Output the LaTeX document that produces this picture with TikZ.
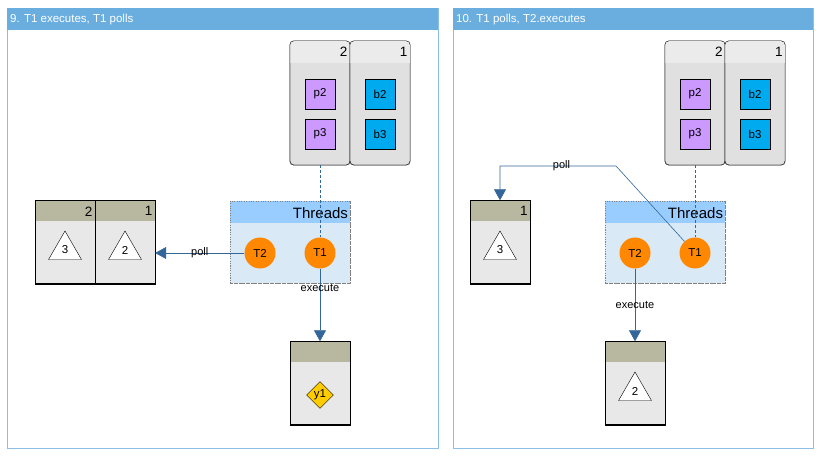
\documentclass[tikz,border=0pt]{standalone}
\usepackage{fontspec}
\setmainfont{Liberation Sans}
\usetikzlibrary{arrows.meta,shapes.geometric,calc}
\definecolor{hdrblue}{HTML}{6AAEE0}
\definecolor{pnlline}{HTML}{8CBFE6}
\definecolor{cellgray}{HTML}{E0E0E0}
\definecolor{cellhead}{HTML}{EBEBEB}
\definecolor{qhead}{HTML}{B8B8A0}
\definecolor{qbody}{HTML}{E8E8E8}
\definecolor{thrhead}{HTML}{99CCFF}
\definecolor{thrbody}{HTML}{D9E9F5}
\definecolor{torange}{HTML}{FF8800}
\definecolor{ppurple}{HTML}{CC99FF}
\definecolor{bblue}{HTML}{00AAEE}
\definecolor{ygold}{HTML}{FFCC00}
\definecolor{arrblue}{HTML}{336699}
\tikzstyle{panel} = [draw=pnlline, fill=white, inner sep=0pt]
\tikzstyle{pnlhead} = [fill=hdrblue, inner sep=0pt, minimum height=22pt]
\tikzstyle{pnltitle} = [text=white, font=\fontsize{11.5}{13}\selectfont, inner sep=0pt]
\tikzstyle{topcell} = [draw=black!85, fill=cellgray, rounded corners=4pt, minimum width=60pt, minimum height=124pt, inner sep=0pt]
\tikzstyle{qcell} = [draw=black, fill=qbody, minimum width=60pt, minimum height=83pt, inner sep=0pt]
\tikzstyle{cellnum} = [font=\fontsize{13.5}{15}\selectfont, inner sep=2.5pt]
\tikzstyle{pbox} = [draw=black, fill=ppurple, minimum size=30pt, inner sep=0pt, font=\fontsize{11.5}{13}\selectfont]
\tikzstyle{bbox} = [draw=black, fill=bblue, minimum size=30pt, inner sep=0pt, font=\fontsize{11.5}{13}\selectfont]
\tikzstyle{thrbox} = [draw=black!50, dotted, fill=thrbody, minimum width=120pt, minimum height=82pt, inner sep=0pt]
\tikzstyle{thr} = [circle, fill=torange, minimum size=31pt, inner sep=0pt, font=\fontsize{11.5}{13}\selectfont]
\tikzstyle{tri} = [regular polygon, regular polygon sides=3, draw=black, fill=white, minimum size=38pt, inner sep=0pt, font=\fontsize{11.5}{13}\selectfont]
\tikzstyle{job} = [diamond, draw=black, fill=ygold, minimum size=27pt, inner sep=0pt, font=\fontsize{11.5}{13}\selectfont]
\tikzstyle{conn} = [draw=arrblue, semithick, -{Triangle[width=12pt,length=11pt]}]
\tikzstyle{dashline} = [draw=arrblue, densely dashed]
\tikzstyle{lbl} = [font=\fontsize{11}{13}\selectfont, inner sep=1pt]
% storage cell with a light rounded header
\newcommand{\topbox}[3]{%
  \node[topcell] (#1) at (#2,103) {};
  \fill[cellhead] ($(#1.north west)+(0.4,22)$) [rounded corners=3.6pt] -- ($(#1.north west)+(0.4,0.4)$) -- ($(#1.north east)+(-0.4,0.4)$) [sharp corners] -- ($(#1.north east)+(-0.4,22)$) -- cycle;
  \draw[black!85, rounded corners=4pt] (#1.north west) rectangle (#1.south east);
  \node[cellnum, anchor=east] at ($(#1.north east)+(0,11)$) {#3};
}
% queue cell with khaki header
\newcommand{\qbox}[4]{%
  \node[qcell] (#1) at (#2,#3) {};
  \fill[qhead] ($(#1.north west)+(0.4,0.4)$) rectangle ($(#1.north east)+(-0.4,21)$);
  \draw[black] (#1.north west) rectangle (#1.south east);
  \node[cellnum, anchor=east] at ($(#1.north east)+(0,11)$) {#4};
}
% threads pool
\newcommand{\pool}[2]{%
  \node[thrbox] (#1) at (#2,242) {};
  \fill[thrhead] ($(#1.north west)+(0.5,0.5)$) rectangle ($(#1.north east)+(-0.5,22)$);
  \draw[black!50, dotted] (#1.north west) rectangle (#1.south east);
  \node[font=\fontsize{15}{17}\selectfont, anchor=east, inner sep=2pt] at ($(#1.north east)+(0,12)$) {Threads};
}

\begin{document}
\begin{tikzpicture}[x=1pt, y=-1pt]
\useasboundingbox (0,0) rectangle (821,462);

%% panel 9
\draw[panel] (7,8) rectangle (438,448);
\node[pnlhead, minimum width=431pt, anchor=north west] (hdA) at (7,8) {};
\node[pnltitle, anchor=west] at ($(hdA.west)+(3,0)$) {9. T1 executes, T1 polls};

\topbox{sA2}{320}{2}
\topbox{sA1}{380}{1}
\node[pbox] (pA2) at (320,94) {p2};
\node[pbox] (pA3) at (320,134) {p3};
\node[bbox] (bA2) at (380,94) {b2};
\node[bbox] (bA3) at (380,134) {b3};

\qbox{qA2}{65}{242}{2}
\qbox{qA1}{125}{242}{1}
\node[tri] (trA3) at (65,250) {3};
\node[tri] (trA2) at (125,250) {2};

\pool{thA}{290}
\node[thr] (tA2) at (260,253) {T2};
\node[thr] (tA1) at (320,253) {T1};

\qbox{eA}{320}{383}{}
\node[job] (yA1) at (320,395) {y1};

\draw[dashline] (sA2.south) -- (tA1.north);
\draw[conn] (tA2.west) -- node[lbl]{poll} (tA2.west -| qA1.east);
\draw[conn] (tA1.south) -- node[lbl, pos=0.27]{execute} (eA.north);

%% panel 10
\draw[panel] (453,8) rectangle (813,448);
\node[pnlhead, minimum width=360pt, anchor=north west] (hdB) at (453,8) {};
\node[pnltitle, anchor=west] at ($(hdB.west)+(3,0)$) {10. T1 polls, T2.executes};

\topbox{sB2}{695}{2}
\topbox{sB1}{755}{1}
\node[pbox] (pB2) at (695,94) {p2};
\node[pbox] (pB3) at (695,134) {p3};
\node[bbox] (bB2) at (755,94) {b2};
\node[bbox] (bB3) at (755,134) {b3};

\qbox{qB1}{500}{242}{1}
\node[tri] (trB3) at (500,250) {3};

\pool{thB}{665}
\node[thr] (tB2) at (635,253) {T2};
\node[thr] (tB1) at (695,253) {T1};

\qbox{eB}{635}{383}{}
\node[tri] (trB2) at (635,391) {2};

\coordinate (bendB) at (616,166);
\draw[dashline] (sB2.south) -- (tB1.north);
\draw[conn] (tB1) -- (bendB) -- node[lbl, pos=0.47]{poll} (bendB -| qB1.north) -- (qB1.north);
\draw[conn] (tB2.south) -- node[lbl, pos=0.5]{execute} (eB.north);
\end{tikzpicture}
\end{document}
